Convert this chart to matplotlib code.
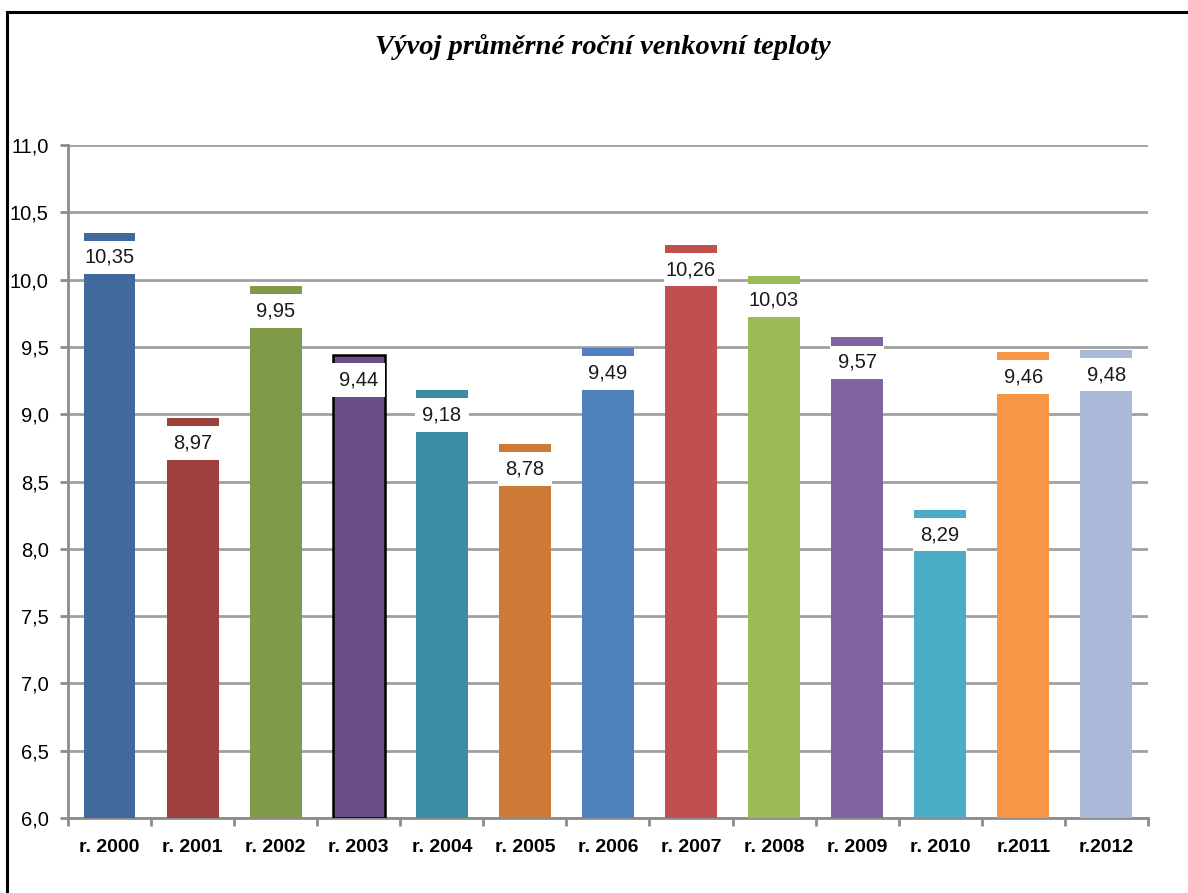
import matplotlib.pyplot as plt
from matplotlib.patches import Rectangle
import numpy as np

roky = ['r. 2000', 'r. 2001', 'r. 2002', 'r. 2003', 'r. 2004', 'r. 2005', 'r. 2006',
        'r. 2007', 'r. 2008', 'r. 2009', 'r. 2010', 'r.2011', 'r.2012']
teploty = [10.35, 8.97, 9.95, 9.44, 9.18, 8.78, 9.49, 10.26, 10.03, 9.57, 8.29, 9.46, 9.48]
barvy = ['#41699B', '#9E413E', '#7F9A48', '#6A4F86', '#3C8DA3', '#CC7A36', '#4F81BD',
         '#C0504D', '#9BBB59', '#8064A2', '#4BACC6', '#F79646', '#AAB9D7']
osa_y = [6.0, 6.5, 7.0, 7.5, 8.0, 8.5, 9.0, 9.5, 10.0, 10.5, 11.0]

plt.rcParams['font.family'] = ['Liberation Sans', 'DejaVu Sans']

fig = plt.figure(figsize=(11.88, 8.93), dpi=100)
ax = fig.add_axes([0.0572, 0.0840, 0.909, 0.7536])

# ramecek kolem grafu
fig.patches.append(Rectangle((7 / 1188, -0.1), 1.2, 1.1 - 12 / 893,
                             transform=fig.transFigure, fill=False,
                             edgecolor='black', linewidth=2.2))

x = np.arange(len(roky))
sirka = 0.625
dno = osa_y[0]
hrany = ['black' if r == 'r. 2003' else 'none' for r in roky]
ax.bar(x, np.array(teploty) - dno, bottom=dno, width=sirka, color=barvy,
       edgecolor=hrany, linewidth=1.8, zorder=3)

# popisky hodnot s bilym pozadim
posun = 0.06
vyska = 0.25
ax.bar(x, [vyska] * len(x), bottom=np.array(teploty) - posun - vyska,
       width=sirka + 0.02, color='white', zorder=4)
for xi, t in zip(x, teploty):
    ax.text(xi, t - posun - vyska / 2, f'{t:.2f}'.replace('.', ','),
            ha='center', va='center', fontsize=14.5, color='#1a1a1a', zorder=5)

ax.set_xlim(-0.5, len(roky) - 0.5)
ax.set_ylim(osa_y[0], osa_y[-1])
ax.set_yticks(osa_y)
ax.set_yticklabels([f'{v:.1f}'.replace('.', ',') for v in osa_y], fontsize=14.5)
ax.set_xticks(x)
ax.set_xticklabels(roky, fontsize=14, fontweight='bold')
ax.set_xticks(np.arange(len(roky) + 1) - 0.5, minor=True)
ax.tick_params(axis='x', which='major', length=0, pad=15)
ax.tick_params(axis='x', which='minor', length=6, width=2, color='#8C8C8C')
ax.tick_params(axis='y', length=6, width=2, color='#8C8C8C', pad=8)

ax.grid(axis='y', color='#A0A0A0', linewidth=2, zorder=0)
ax.set_axisbelow(True)
for s in ['top', 'right']:
    ax.spines[s].set_visible(False)
for s in ['left', 'bottom']:
    ax.spines[s].set_color('#8C8C8C')
    ax.spines[s].set_linewidth(2)

fig.text(0.507, 0.947, 'Vývoj průměrné roční venkovní teploty', ha='center', va='center',
         fontsize=20.5, fontweight='bold', fontstyle='italic',
         family=['Liberation Serif', 'DejaVu Serif'])

plt.savefig('out.png', dpi=100)
